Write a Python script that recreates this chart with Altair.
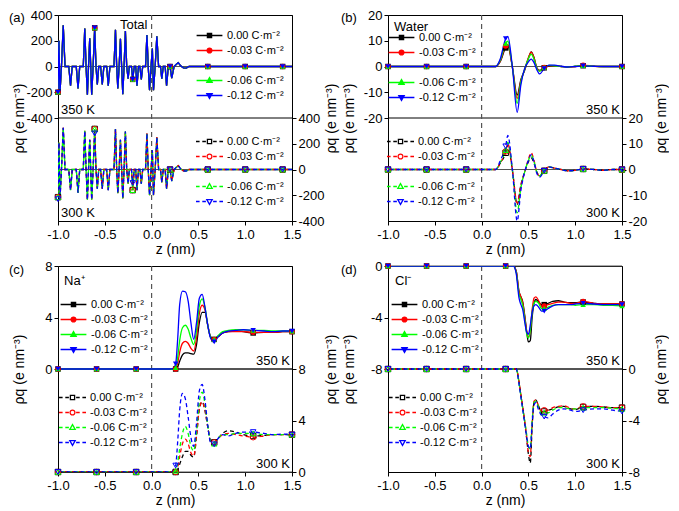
import altair as alt
import pandas as pd

FONT = "Liberation Sans"
SERIES = ["0.00", "-0.03", "-0.06", "-0.12"]
COLORS = ["#000000", "#ff0000", "#00ff00", "#0000ff"]
SHAPES = ["square", "circle", "triangle-up", "triangle-down"]
LEGEND_TEXT = ["\u00a0\u00a00.00 C\u00b7m\u207b\u00b2", "-0.03 C\u00b7m\u207b\u00b2",
               "-0.06 C\u00b7m\u207b\u00b2", "-0.12 C\u00b7m\u207b\u00b2"]
X_TICKS = [-1.0, -0.5, 0.0, 0.5, 1.0, 1.5]
Y_TITLE = "\u03c1q (e nm\u207b\u00b3)"

# ---------------- (a) Total ----------------
A_X = [-1.000, -0.990, -0.979, -0.963, -0.944, -0.925, -0.885, -0.866, -0.848, -0.805,
       -0.786, -0.768, -0.730, -0.714, -0.700, -0.686, -0.674, -0.661, -0.650, -0.640,
       -0.625, -0.608, -0.594, -0.580, -0.565, -0.545, -0.527, -0.510, -0.480, -0.463,
       -0.445, -0.402, -0.386, -0.373, -0.361, -0.347, -0.333, -0.320, -0.308, -0.294,
       -0.280, -0.266, -0.251, -0.238, -0.215, -0.202, -0.185, -0.170, -0.156, -0.140,
       -0.125, -0.110, -0.095, -0.065, -0.050, -0.036, -0.022, -0.006, 0.008, 0.020,
       0.038, 0.056, 0.075, 0.095, 0.109, 0.125, 0.145, 0.160, 0.180, 0.197,
       0.215, 0.240, 0.262, 0.285, 0.310, 0.340, 0.370, 0.400, 0.600, 1.000,
       1.400, 1.500]
A_350 = [-200, 200, -205, 0, 320, 0, 0, -150, 0, 0,
         -170, 0, 0, 295, 0, -220, 0, 220, 0, -220,
         0, 300, 0, -140, 0, 0, -140, 0, 0, -150,
         0, 0, 285, 0, -170, 0, 215, 0, -215, 0,
         275, 0, -95, 0, 0, -100, 0, 0, -150, 0,
         0, -100, 0, 0, 245, 0, -185, 0, 140, -185,
         0, 235, 0, 0, -95, 0, 0, -150, 10, 0,
         -90, 0, 15, 30, 5, -10, -12, 0, 0, 0,
         0, 0]
A_300 = [-215, 210, -230, 0, 325, 0, 0, -160, 0, 0,
         -180, 0, 0, 300, 0, -235, 0, 230, 0, -235,
         0, 315, 0, -150, 0, 0, -150, 0, 0, -160,
         0, 0, 315, 0, -185, 0, 230, 0, -225, 0,
         295, 0, -110, 0, 0, -160, 0, 0, -160, 0,
         0, -110, 0, 0, 280, 0, -200, 0, 150, -200,
         0, 250, 0, 0, -100, 0, 0, -150, 10, 0,
         -90, 0, 15, 30, 5, -10, -12, 0, 0, 0,
         0, 0]
A_300_B = [-230, 210, -230, 0, 325, 0, 0, -160, 0, 0,
           -180, 0, 0, 300, 0, -235, 0, 230, 0, -235,
           0, 280, 0, -150, 0, 0, -150, 0, 0, -160,
           0, 0, 315, 0, -185, 0, 230, 0, -225, 0,
           295, 0, -110, 0, 0, -105, 0, 0, -160, 0,
           0, -110, 0, 0, 280, 0, -200, 0, 150, -200,
           0, 250, 0, 0, -100, 0, 0, -150, 10, 0,
           -90, 0, 15, 30, 5, -10, -12, 0, 0, 0,
           0, 0]
A_MARK = [-1.0, -0.608, -0.202, 0.197, 0.6, 1.0, 1.4]

# ---------------- (b) Water ----------------
B_X = [-1.0, -0.588, -0.165, 0.15, 0.20, 0.257, 0.28, 0.33, 0.38, 0.42, 0.46, 0.50, 0.53,
       0.56, 0.59, 0.62, 0.669, 0.72, 0.78, 0.85, 0.92, 1.0, 1.085, 1.2, 1.3, 1.4, 1.5]
B_350_K = [0, 0, 0, 0, 2.0, 7.2, 7.9, -0.5, -11.1, -5.0, -1.5, 3.2, 5.7,
           3.5, -0.5, -1.5, -0.5, 0.2, 0.3, 0.0, -0.2, 0.0, 0.3, 0.1, 0.0, 0.0, 0.0]
B_350_R = [0, 0, 0, 0, 2.2, 8.0, 8.6, -0.5, -12.4, -5.5, -1.2, 3.4, 5.6,
           3.3, -0.6, -1.6, -0.4, 0.3, 0.3, 0.0, -0.2, 0.0, 0.5, 0.1, 0.0, 0.0, 0.0]
B_350_G = [0, 0, 0, 0, 2.5, 9.0, 9.8, -0.5, -14.3, -6.0, -1.0, 3.0, 4.8,
           2.7, -0.8, -1.9, -0.3, 0.4, 0.3, 0.0, -0.2, 0.1, 0.3, 0.1, 0.0, 0.0, 0.0]
B_350_B = [0, 0, 0, 0, 3.0, 10.8, 11.7, -0.5, -17.8, -7.0, -0.8, 1.8, 2.9,
           1.5, -1.2, -2.9, -0.8, 0.5, 0.5, 0.1, -0.2, 0.0, 0.2, 0.1, 0.0, 0.0, 0.0]
B_300_K = [0, 0, 0, 0, 2.5, 6.5, 9.5, -0.5, -13.6, -6.0, -1.0, 3.0, 4.5,
           2.5, -1.0, -2.5, -0.5, 1.0, 0.5, 0.0, -0.5, -0.3, 0.2, 0.0, -0.3, 0.0, 0.0]
B_300_R = [0, 0, 0, 0, 2.5, 7.0, 10.0, -0.5, -13.0, -6.0, -1.0, 4.0, 6.5,
           3.5, -1.0, -2.5, -0.5, 1.0, 0.5, 0.0, -0.5, -0.3, 0.2, 0.0, -0.3, 0.0, 0.0]
B_300_G = [0, 0, 0, 0, 2.8, 7.5, 10.5, -0.5, -16.8, -7.0, -1.0, 3.5, 5.5,
           3.0, -1.0, -2.5, -0.5, 1.0, 0.5, 0.0, -0.5, -0.3, 0.2, 0.0, -0.3, 0.0, 0.0]
B_300_B = [0, 0, 0, 0, 3.5, 9.0, 13.2, -0.5, -20.0, -8.0, -1.0, 3.5, 5.8,
           3.0, -1.5, -3.0, -0.5, 1.0, 0.5, 0.0, -0.5, -0.3, 0.2, 0.0, -0.3, 0.0, 0.0]
B_MARK = [-1.0, -0.588, -0.165, 0.257, 0.669, 1.085, 1.5]

# ---------------- (c) Na+ ----------------
C_X = [-1.0, -0.588, -0.165, 0.20, 0.23, 0.257, 0.28, 0.30, 0.33, 0.36, 0.39, 0.42, 0.45, 0.48,
       0.51, 0.54, 0.57, 0.60, 0.63, 0.669, 0.71, 0.76, 0.82, 0.90, 0.98, 1.085, 1.2, 1.3, 1.4, 1.5]
C_350_K = [0, 0, 0, 0, 0, 0, 0.2, 0.6, 1.1, 1.25, 1.25, 1.2, 1.15, 1.9, 3.6, 4.4, 4.4, 3.4,
           2.5, 2.3, 2.5, 2.8, 2.9, 2.95, 2.9, 2.8, 2.85, 2.85, 2.9, 2.9]
C_350_R = [0, 0, 0, 0, 0, 0, 0.5, 1.3, 2.0, 2.15, 2.0, 1.6, 1.4, 2.4, 4.3, 4.95, 4.6, 3.4,
           2.5, 2.3, 2.5, 2.8, 2.9, 2.9, 2.9, 2.85, 2.85, 2.85, 2.9, 2.9]
C_350_G = [0, 0, 0, 0, 0, 0.1, 1.0, 2.2, 3.2, 3.4, 3.1, 2.4, 1.9, 3.0, 4.9, 5.45, 4.8, 3.4,
           2.5, 2.3, 2.6, 2.9, 3.0, 3.05, 3.05, 3.0, 3.0, 2.95, 2.95, 2.95]
C_350_B = [0, 0, 0, 0, 0.05, 0.4, 2.5, 5.0, 6.05, 6.0, 5.3, 3.6, 2.3, 3.6, 5.5, 5.8, 4.8, 3.4,
           2.4, 2.1, 2.5, 2.8, 2.95, 3.0, 3.05, 3.0, 2.95, 2.9, 2.95, 2.95]
C_300_K = [0, 0, 0, 0, 0, 0, 0.2, 0.6, 1.2, 1.6, 1.6, 1.3, 1.15, 2.8, 4.9, 5.45, 4.8, 3.5,
           2.4, 2.3, 2.6, 3.0, 3.2, 3.1, 2.9, 2.8, 2.85, 2.9, 2.9, 2.9]
C_300_R = [0, 0, 0, 0, 0, 0, 0.4, 1.2, 2.2, 2.55, 2.2, 1.5, 1.25, 2.8, 4.9, 5.45, 4.8, 3.5,
           2.4, 2.3, 2.6, 2.9, 3.0, 2.9, 2.8, 2.7, 2.8, 2.9, 2.9, 2.9]
C_300_G = [0, 0, 0, 0, 0, 0.1, 0.8, 1.8, 3.0, 3.55, 3.0, 2.0, 1.65, 3.2, 5.5, 6.2, 5.3, 3.6,
           2.4, 2.2, 2.6, 2.9, 2.9, 3.0, 3.0, 3.0, 2.9, 2.9, 2.9, 2.9]
C_300_B = [0, 0, 0, 0, 0.1, 0.5, 2.5, 4.8, 6.1, 5.7, 4.3, 2.7, 2.0, 3.8, 6.3, 6.8, 5.6, 3.6,
           2.3, 2.15, 2.6, 2.9, 2.8, 3.0, 3.1, 3.1, 3.0, 2.9, 2.95, 2.9]
C_MARK = [-1.0, -0.588, -0.165, 0.257, 0.669, 1.085, 1.5]

# ---------------- (d) Cl- ----------------
D_X = [-1.0, -0.588, -0.165, 0.257, 0.30, 0.34, 0.37, 0.40, 0.42, 0.44, 0.46, 0.48, 0.50, 0.52,
       0.54, 0.56, 0.58, 0.61, 0.64, 0.669, 0.71, 0.76, 0.82, 0.88, 0.95, 1.0, 1.085, 1.2, 1.3,
       1.4, 1.5]
D_350_K = [0, 0, 0, 0, 0, 0, -0.4, -2.0, -2.4, -2.8, -3.8, -5.0, -5.9, -5.8, -4.0, -2.9, -2.6,
           -2.8, -3.0, -3.0, -2.9, -2.75, -2.7, -2.8, -2.85, -2.85, -2.8, -2.9, -2.95, -2.95, -2.95]
D_350_R = [0, 0, 0, 0, 0, 0, -0.4, -2.0, -2.4, -2.9, -3.9, -5.0, -5.5, -5.0, -3.4, -2.5, -2.4,
           -2.7, -3.1, -3.1, -3.0, -2.9, -2.8, -2.8, -2.9, -2.9, -2.75, -2.9, -2.95, -2.95, -2.95]
D_350_G = [0, 0, 0, 0, 0, 0, -0.5, -2.2, -2.6, -3.1, -4.1, -5.2, -5.6, -5.0, -3.6, -2.9, -2.75,
           -2.9, -3.3, -3.3, -3.2, -3.05, -3.0, -3.0, -3.0, -3.05, -3.0, -3.0, -3.05, -3.05, -3.1]
D_350_B = [0, 0, 0, 0, 0, 0, -0.6, -2.5, -3.0, -3.4, -4.3, -5.1, -5.3, -4.6, -3.6, -3.1, -3.0,
           -3.2, -3.5, -3.5, -3.3, -3.1, -3.0, -3.0, -3.0, -2.95, -2.9, -2.95, -3.0, -3.0, -3.0]
D_300_K = [0, 0, 0, 0, 0, 0, 0, -1.0, -2.0, -3.0, -4.1, -5.3, -6.6, -7.3, -4.5, -2.6, -2.4,
           -2.9, -3.3, -3.3, -3.2, -3.1, -2.95, -2.9, -3.1, -3.15, -2.95, -2.9, -2.95, -3.0, -3.0]
D_300_R = [0, 0, 0, 0, 0, 0, 0, -1.0, -2.0, -3.0, -4.0, -5.2, -6.5, -6.8, -4.2, -2.5, -2.4,
           -2.9, -3.3, -3.2, -3.2, -3.0, -2.9, -2.85, -3.05, -3.1, -2.9, -2.9, -2.95, -3.0, -3.0]
D_300_G = [0, 0, 0, 0, 0, 0, 0, -1.1, -2.1, -3.1, -4.0, -5.0, -6.0, -6.2, -4.0, -2.6, -2.5,
           -3.0, -3.4, -3.4, -3.4, -3.2, -3.0, -3.0, -3.1, -3.1, -3.0, -3.0, -3.0, -3.05, -3.1]
D_300_B = [0, 0, 0, 0, 0, 0, 0, -1.2, -2.2, -3.2, -4.2, -5.2, -6.0, -6.2, -4.2, -2.8, -2.6,
           -3.2, -3.6, -3.7, -3.8, -3.5, -3.2, -3.1, -3.2, -3.3, -3.2, -3.1, -3.1, -3.2, -3.3]
D_MARK = [-1.0, -0.588, -0.165, 0.257, 0.669, 1.085, 1.5]

# ---------------- styling ----------------
W, H = 234, 206
LINE_PATH = "M-4.3,0H4.3"
DASH_PATH = "M-4.5,0H-3.3M-2.4,0H-1.2M1.2,0H2.4M3.3,0H4.5"
MARK_PATHS = [
    "M-0.7,-0.7H0.7V0.7H-0.7Z",
    "M-0.8,0A0.8,0.8,0,1,0,0.8,0A0.8,0.8,0,1,0,-0.8,0Z",
    "M0,-0.95L0.9,0.65H-0.9Z",
    "M0,0.95L0.9,-0.65H-0.9Z",
]
DASH_OFFSETS = [0, 2, 4, 5.5]


def neg_fmt(expr, fmt):
    return f"({expr}) < 0 ? '-' + format(-({expr}), '{fmt}') : format({expr}, '{fmt}')"


X_AXIS = alt.Axis(values=X_TICKS, labelExpr=neg_fmt("datum.value", ".1f"), title="z (nm)",
                  tickSize=4, labelPadding=3, titlePadding=1, labelFlush=False)


def xq(field):
    return alt.X(field, type="quantitative",
                 scale=alt.Scale(domain=[-1.0, 1.5], nice=False, zero=False), axis=X_AXIS)


def build_panel(xs, c350, c300, marks, lo, hi, left_vals, right_vals, interp,
                tag, name, name_xy, k_align, k_x, leg350_xy, leg300_xy, gap):
    span = hi - lo
    for c in c350 + c300:
        assert len(c) == len(xs)
    rows = []
    for temp, curves in ((350, c350), (300, c300)):
        for s, vals in zip(SERIES, curves):
            for x, v in zip(xs, vals):
                rows.append({"T": temp, "s": s, "x": x, "rho": v,
                             "mk": any(abs(x - m) < 1e-9 for m in marks)})
    df = pd.DataFrame(rows)
    calc = f"datum.T == 350 ? datum.rho : datum.rho - {span}"
    ydom = [lo - span, hi]

    def yq(axis=None):
        return alt.Y("yc:Q", scale=alt.Scale(domain=ydom, nice=False, zero=False), axis=axis)

    left_axis = alt.Axis(orient="left", values=left_vals, labelExpr=neg_fmt("datum.value", "d"),
                         title=Y_TITLE, minExtent=30, maxExtent=30, tickSize=4, labelPadding=2,
                         titlePadding=2)
    right_axis = alt.Axis(orient="right", values=right_vals,
                          labelExpr=neg_fmt(f"datum.value + {span}", "d"),
                          title=Y_TITLE, titleAngle=270, minExtent=30, maxExtent=30, tickSize=4,
                          labelPadding=2, titlePadding=16)

    base = alt.Chart(df).transform_calculate(yc=calc)
    color = alt.Color("s:N", scale=alt.Scale(domain=SERIES, range=COLORS), legend=None)
    shape = alt.Shape("s:N", scale=alt.Scale(domain=SERIES, range=SHAPES), legend=None)

    layers = []
    ref_df = pd.DataFrame({"T": [350, 300], "rho": [0, 0]})
    layers.append(alt.Chart(ref_df).transform_calculate(yc=calc)
                  .mark_rule(color="#555555", strokeWidth=1).encode(y=yq()))
    div_df = pd.DataFrame({"T": [350], "rho": [lo]})
    layers.append(alt.Chart(div_df).transform_calculate(yc=calc)
                  .mark_rule(color="black", strokeWidth=1).encode(y=yq()))
    layers.append(alt.Chart(pd.DataFrame({"x": [0.0]}))
                  .mark_rule(color="#555555", strokeDash=[5, 4], strokeWidth=1.2)
                  .encode(x=xq("x")))

    layers.append(base.transform_filter("datum.T == 350")
                  .mark_line(strokeWidth=1.3, interpolate=interp, clip=True)
                  .encode(x=xq("x"), y=yq(left_axis), color=color, detail="s:N"))
    layers.append(base.transform_filter("datum.T == 350 && datum.mk")
                  .mark_point(filled=True, size=30, opacity=1)
                  .encode(x=xq("x"), y=yq(), color=color, shape=shape))
    for i, s in enumerate(SERIES):
        layers.append(base.transform_filter(f"datum.T == 300 && datum.s == '{s}'")
                      .mark_line(strokeWidth=1.3, interpolate=interp, clip=True,
                                 strokeDash=[4, 3], strokeDashOffset=DASH_OFFSETS[i],
                                 color=COLORS[i])
                      .encode(x=xq("x"), y=yq()))
    layers.append(base.transform_filter("datum.T == 300 && datum.mk")
                  .mark_point(filled=False, size=30, opacity=1, strokeWidth=1)
                  .encode(x=xq("x"), y=yq(right_axis), color=color, shape=shape))

    if gap:
        dom = LEGEND_TEXT[:2] + ["\u00a0"] + LEGEND_TEXT[2:]
        cols = COLORS[:2] + ["rgba(0,0,0,0)"] + COLORS[2:]
        p350 = [LINE_PATH + p for p in MARK_PATHS[:2]] + ["M0,0"] + [LINE_PATH + p for p in MARK_PATHS[2:]]
        p300 = [DASH_PATH + p for p in MARK_PATHS[:2]] + ["M0,0"] + [DASH_PATH + p for p in MARK_PATHS[2:]]
    else:
        dom = LEGEND_TEXT
        cols = COLORS
        p350 = [LINE_PATH + p for p in MARK_PATHS]
        p300 = [DASH_PATH + p for p in MARK_PATHS]

    def leg(xy):
        return alt.Legend(orient="none", legendX=xy[0], legendY=xy[1], title=None,
                          symbolSize=36, labelFontSize=11, labelFont=FONT, labelOffset=12,
                          rowPadding=3, padding=0, symbolStrokeWidth=1.3, labelLimit=200)

    l350 = leg(leg350_xy)
    layers.append(base.transform_filter("false")
                  .mark_point(filled=True, opacity=1, strokeWidth=1.3)
                  .encode(color=alt.Color("lab:N", scale=alt.Scale(domain=dom, range=cols), legend=l350),
                          stroke=alt.Stroke("lab:N", scale=alt.Scale(domain=dom, range=cols), legend=l350),
                          shape=alt.Shape("lab:N", scale=alt.Scale(domain=dom, range=p350), legend=l350)))
    l300 = leg(leg300_xy)
    layers.append(base.transform_filter("false")
                  .mark_point(filled=False, opacity=1, strokeWidth=1.2)
                  .encode(color=alt.Color("lab:N", scale=alt.Scale(domain=dom, range=cols), legend=l300),
                          shape=alt.Shape("lab:N", scale=alt.Scale(domain=dom, range=p300), legend=l300)))

    def txt(t, x, y, align="left"):
        return (alt.Chart(pd.DataFrame({"t": [t]}))
                .mark_text(align=align, baseline="alphabetic", fontSize=13, font=FONT, color="black")
                .encode(x=alt.value(x), y=alt.value(y), text="t:N"))

    layers.append(txt(tag[0], tag[1], tag[2]))
    layers.append(txt(name, name_xy[0], name_xy[1]))
    layers.append(txt("350 K", k_x, H / 2 - 4, k_align))
    layers.append(txt("300 K", k_x, H - 4, k_align))

    return (alt.layer(*layers)
            .resolve_scale(y="independent", color="independent", shape="independent",
                           stroke="independent")
            .properties(width=W, height=H))


pa = build_panel(A_X, [A_350, A_350, A_350, A_350], [A_300, A_300, A_300, A_300_B], A_MARK,
                 -400, 400, [400, 200, 0, -200, -400], [-400, -600, -800, -1000, -1200], "linear",
                 ("(a)", -49, 7), "Total", (62, 14), "left", 3, (146, 15), (146, 121), True)
pb = build_panel(B_X, [B_350_K, B_350_R, B_350_G, B_350_B], [B_300_K, B_300_R, B_300_G, B_300_B],
                 B_MARK, -20, 20, [20, 10, 0, -10, -20], [-20, -30, -40, -50, -60], "monotone",
                 ("(b)", -47, 7), "Water", (6, 16), "right", 232, (8, 17), (7, 121), True)
pc = build_panel(C_X, [C_350_K, C_350_R, C_350_G, C_350_B], [C_300_K, C_300_R, C_300_G, C_300_B],
                 C_MARK, 0, 8, [8, 4, 0], [0, -4, -8], "monotone",
                 ("(c)", -49, 8), "Na\u207a", (6, 19), "right", 232, (10, 33), (9, 126), False)
pd_ = build_panel(D_X, [D_350_K, D_350_R, D_350_G, D_350_B], [D_300_K, D_300_R, D_300_G, D_300_B],
                  D_MARK, -8, 0, [0, -4, -8], [-8, -12, -16], "monotone",
                  ("(d)", -47, 8), "Cl\u207b", (7, 19), "right", 232, (11, 33), (9, 126), False)

chart = (alt.vconcat(alt.hconcat(pa, pb, spacing=1), alt.hconcat(pc, pd_, spacing=1), spacing=2)
         .properties(padding=0)
         .configure_view(stroke="black", strokeWidth=1)
         .configure_axis(labelFont=FONT, titleFont=FONT, labelFontSize=13, titleFontSize=14,
                         titleFontWeight="normal", labelColor="black", titleColor="black",
                         domainColor="black", tickColor="black", grid=False)
         .configure_legend(labelFont=FONT)
         .configure_text(font=FONT))

chart.save("out.html", embed_options={"renderer": "svg", "actions": False})
